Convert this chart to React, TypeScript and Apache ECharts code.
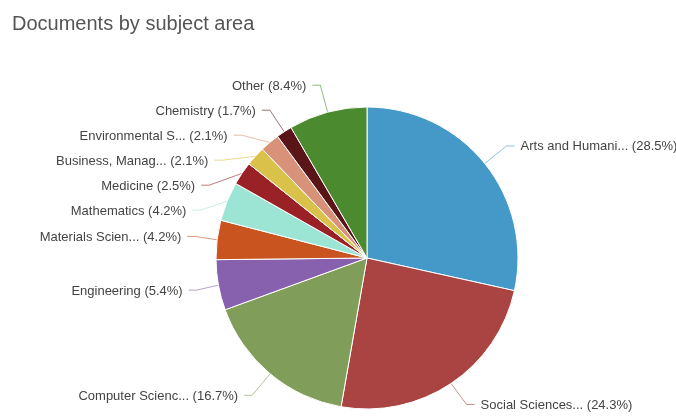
import React, { useEffect, useRef } from "react";
import * as echarts from "echarts";

const categories = [
  "Arts and Humani...",
  "Social Sciences...",
  "Computer Scienc...",
  "Engineering",
  "Materials Scien...",
  "Mathematics",
  "Medicine",
  "Business, Manag...",
  "Environmental S...",
  "Chemistry",
  "Other",
];
const shares = [28.5, 24.3, 16.7, 5.4, 4.2, 4.2, 2.5, 2.1, 2.1, 1.7, 8.4];
const colors = [
  "#4499c9",
  "#a94442",
  "#819d5a",
  "#8761ad",
  "#c9541f",
  "#9ce4d4",
  "#9a2227",
  "#d9c14a",
  "#d8927a",
  "#5a1518",
  "#4b8a2e",
];

export default function App() {
  const ref = useRef<HTMLDivElement>(null);
  useEffect(() => {
    if (!ref.current) return;
    const chart = echarts.init(ref.current, undefined, { renderer: "svg" });
    chart.setOption({
      animation: false,
      title: {
        text: "Documents by subject area",
        left: 7,
        top: 8,
        textStyle: {
          fontFamily: "Liberation Sans, Arial, sans-serif",
          fontSize: 20,
          fontWeight: "normal",
          color: "#555555",
        },
      },
      series: [
        {
          type: "pie",
          center: [367, 258],
          radius: 151,
          startAngle: 90,
          clockwise: true,
          itemStyle: { borderColor: "#ffffff", borderWidth: 1 },
          label: {
            show: true,
            formatter: (p: any) => `${p.name} (${p.value.toFixed(1)}%)`,
            fontFamily: "Liberation Sans, Arial, sans-serif",
            fontSize: 13,
            lineHeight: 23,
            color: "#444444",
            overflow: "none",
            distanceToLabelLine: 6,
          },
          labelLine: {
            show: true,
            length: 28,
            length2: 8,
            smooth: false,
            lineStyle: { width: 1, opacity: 0.6 },
          },
          data: categories.map((name, i) => ({
            name,
            value: shares[i],
            itemStyle: { color: colors[i] },
          })),
        },
      ],
    });
    return () => chart.dispose();
  }, []);
  return (
    <div
      ref={ref}
      style={{ position: "fixed", left: 0, top: 0, width: 676, height: 417 }}
    />
  );
}
